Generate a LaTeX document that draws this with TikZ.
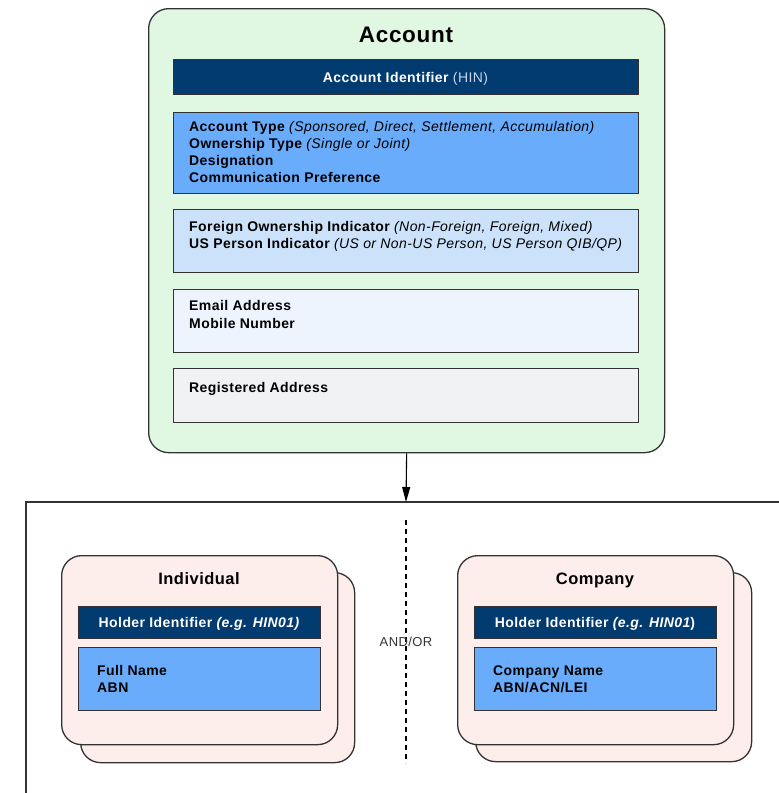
\documentclass[tikz,border=0pt]{standalone}
\usepackage{fontspec}
\setmainfont{Liberation Sans}[LetterSpace=3]
\usetikzlibrary{arrows.meta}
\definecolor{edge}{HTML}{333333}
\definecolor{navy}{HTML}{013B6F}
\definecolor{accgreen}{HTML}{E0F8E1}
\definecolor{blueA}{HTML}{69ACFC}
\definecolor{blueB}{HTML}{CCE2FA}
\definecolor{blueC}{HTML}{EEF4FE}
\definecolor{grayD}{HTML}{F1F2F3}
\definecolor{cardpink}{HTML}{FDEEEC}
\definecolor{hinlight}{HTML}{C9D6E6}
\definecolor{andor}{HTML}{333333}
\tikzset{
  outerbox/.style={draw=edge, line width=1.3pt, rounded corners=20pt, anchor=north west, inner sep=0pt},
  fieldbox/.style={draw=edge, line width=1.2pt, anchor=north west, inner sep=0pt},
  cardbox/.style={draw=edge, line width=1.3pt, rounded corners=20pt, fill=cardpink, anchor=north west, inner sep=0pt, minimum width=276pt, minimum height=189pt},
  linetxt/.style={anchor=base west, inner sep=0pt, font=\fontsize{14}{16}\selectfont\bfseries},
  bartxt/.style={anchor=base, inner sep=0pt, text=white, font=\fontsize{14}{16}\selectfont\bfseries},
  titletxt/.style={anchor=base, inner sep=0pt, font=\fontsize{16.5}{20}\selectfont\bfseries},
  arr/.style={draw=black, line width=1.1pt, -{Triangle[length=15pt,width=8pt]}},
  frameline/.style={draw=edge, line width=1.3pt},
  dashline/.style={draw=black, line width=1.2pt, dash pattern=on 5pt off 4pt}
}
\begin{document}
\begin{tikzpicture}[x=1pt,y=-1pt]
\useasboundingbox (0,0) rectangle (779,793);

% Account container
\node[outerbox, fill=accgreen, minimum width=516pt, minimum height=444pt] (account) at (148,8) {};
\node[anchor=base, inner sep=0pt, font=\fontsize{22.5}{26}\selectfont\bfseries] (acctitle) at (406,42) {Account};

\node[fieldbox, fill=navy, minimum width=465pt, minimum height=35pt] (accid) at (173,59) {};
\node[bartxt] (accidtxt) at (405.5,82) {Account Identifier \textcolor{hinlight}{\mdseries (HIN)}};

\node[fieldbox, fill=blueA, minimum width=465pt, minimum height=81pt] (types) at (173,112) {};
\node[linetxt] (t1) at (189,131) {Account Type \mdseries\itshape (Sponsored, Direct, Settlement, Accumulation)};
\node[linetxt] (t2) at (189,148) {Ownership Type \mdseries\itshape (Single or Joint)};
\node[linetxt] (t3) at (189,165.5) {Designation};
\node[linetxt] (t4) at (189,182.5) {Communication Preference};

\node[fieldbox, fill=blueB, minimum width=465pt, minimum height=63pt] (indic) at (173,209) {};
\node[linetxt] (i1) at (189,231) {Foreign Ownership Indicator \mdseries\itshape (Non-Foreign, Foreign, Mixed)};
\node[linetxt] (i2) at (189,248.5) {US Person Indicator \mdseries\itshape (US or Non-US Person, US Person QIB/QP)};

\node[fieldbox, fill=blueC, minimum width=465pt, minimum height=63pt] (contact) at (173,289) {};
\node[linetxt] (c1) at (189,310.5) {Email Address};
\node[linetxt] (c2) at (189,328) {Mobile Number};

\node[fieldbox, fill=grayD, minimum width=465pt, minimum height=54pt] (addr) at (173,368) {};
\node[linetxt] (a1) at (189,392) {Registered Address};

% Holder frame
\coordinate (frametop) at (406,502);
\coordinate (frameright) at (781,502);
\coordinate (framecorner) at (26,502);
\coordinate (framebottom) at (26,795);
\draw[frameline] (frameright) -- (framecorner) -- (framebottom);
\draw[arr] (account.south) -- (frametop);

% Divider
\coordinate (dtop) at (406,520);
\coordinate (dbot) at (406,763);
\draw[dashline] (dtop) -- (dbot);
\node[anchor=base, inner sep=0pt, text=andor, font=\fontsize{13}{16}\selectfont] (andor) at (406,646.5) {AND/OR};

% Individual
\node[cardbox, minimum width=274pt, minimum height=190pt] (indback) at (80,572) {};
\node[cardbox] (ind) at (61,555) {};
\node[titletxt] (indtitle) at (199,584) {Individual};
\node[fieldbox, fill=navy, minimum width=242pt, minimum height=32pt] (indhid) at (78,606) {};
\node[bartxt] (indhidtxt) at (199,627) {Holder Identifier \itshape (e.g. HIN01)};
\node[fieldbox, fill=blueA, minimum width=242pt, minimum height=63pt] (inddet) at (78,647) {};
\node[linetxt] (id1) at (97,675) {Full Name};
\node[linetxt] (id2) at (97,692.5) {ABN};

% Company
\node[cardbox] (compback) at (475,572) {};
\node[cardbox] (comp) at (457,555) {};
\node[titletxt] (comptitle) at (595,584) {Company};
\node[fieldbox, fill=navy, minimum width=242pt, minimum height=32pt] (comphid) at (474,606) {};
\node[bartxt] (comphidtxt) at (595,627) {Holder Identifier {\itshape (e.g. HIN01})};
\node[fieldbox, fill=blueA, minimum width=242pt, minimum height=63pt] (compdet) at (474,647) {};
\node[linetxt] (cd1) at (493,675) {Company Name};
\node[linetxt] (cd2) at (493,692.5) {ABN/ACN/LEI};
\end{tikzpicture}
\end{document}
